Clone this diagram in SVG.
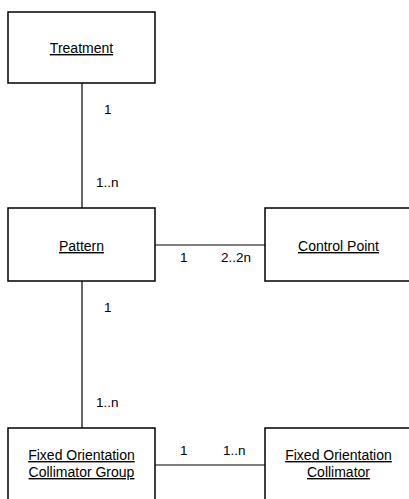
<svg xmlns="http://www.w3.org/2000/svg" width="409" height="499" viewBox="0 0 409 499">
<style>
.box{fill:#fff;stroke:#000;stroke-width:1.5}
.t{font-family:"Liberation Sans",Arial,sans-serif;font-size:14px;text-anchor:middle;text-decoration:underline;fill:#000}
.lbl{font-family:"Liberation Sans",Arial,sans-serif;font-size:13.5px;fill:#000}
.c{stroke:#000;stroke-width:1.2;fill:none}
</style>
<rect width="409" height="499" fill="#fff"/>
<g id="connectors">
<line class="c" x1="82" y1="83" x2="82" y2="208"/>
<line class="c" x1="82" y1="281" x2="82" y2="428"/>
<line class="c" x1="155" y1="245" x2="265" y2="245"/>
<line class="c" x1="155" y1="465" x2="265" y2="465"/>
<text class="lbl" x="104" y="114">1</text>
<text class="lbl" x="96" y="187">1..n</text>
<text class="lbl" x="104" y="312">1</text>
<text class="lbl" x="96" y="407">1..n</text>
<text class="lbl" x="180" y="262">1</text>
<text class="lbl" x="221" y="262">2..2n</text>
<text class="lbl" x="180" y="455">1</text>
<text class="lbl" x="223" y="455">1..n</text>
</g>
<g id="treatment">
<rect class="box" x="8" y="12" width="147" height="71"/>
<text class="t" x="81.5" y="53">Treatment</text>
</g>
<g id="pattern">
<rect class="box" x="8" y="208" width="147" height="73"/>
<text class="t" x="81.5" y="251">Pattern</text>
</g>
<g id="control-point">
<rect class="box" x="265" y="208" width="147" height="73"/>
<text class="t" x="338.5" y="251">Control Point</text>
</g>
<g id="fixed-orientation-collimator-group">
<rect class="box" x="8" y="428" width="147" height="80"/>
<text class="t" x="81.5" y="460">Fixed Orientation</text>
<text class="t" x="81.5" y="477">Collimator Group</text>
</g>
<g id="fixed-orientation-collimator">
<rect class="box" x="265" y="428" width="147" height="80"/>
<text class="t" x="338.5" y="460">Fixed Orientation</text>
<text class="t" x="338.5" y="477">Collimator</text>
</g>
</svg>
